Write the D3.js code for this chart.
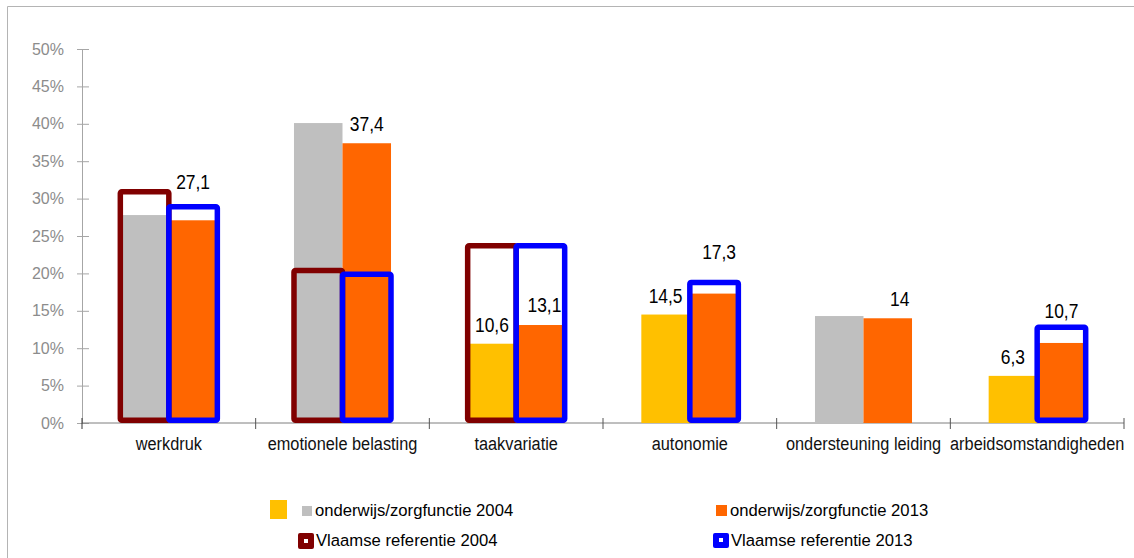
<!DOCTYPE html>
<html>
<head>
<meta charset="utf-8">
<script src="https://cdn.jsdelivr.net/npm/d3@7"></script>
<style>
  body { margin: 0; background: #fff; }
  svg { display: block; font-family: "Liberation Sans", Arial, sans-serif; }
</style>
</head>
<body>
<div id="chart"></div>
<script>
// Data
const categories = ["werkdruk", "emotionele belasting", "taakvariatie", "autonomie", "ondersteuning leiding", "arbeidsomstandigheden"];
const onderwijs2004 = [27.8, 40.1, 10.6, 14.5, 14.3, 6.3];
const onderwijs2013 = [27.1, 37.4, 13.1, 17.3, 14.0, 10.7];
const vlaams2004 = [30.9, 20.4, 23.7, null, null, null];
const vlaams2013 = [28.9, 19.9, 23.7, 18.8, null, 12.8];
// 2004 bars drawn yellow (with label) where marked
const marked2004 = [false, false, true, true, false, true];
const yTicks = [0, 5, 10, 15, 20, 25, 30, 35, 40, 45, 50];

// label nudges (px above bar top, px right)
const lift2013 = [31, 12, 13, 35, 12, 25];
const shift2013 = [0, 0, 4, 5, 12, 0];

const width = 1134, height = 558;

const svg = d3.select("#chart")
    .append("svg")
    .attr("width", width)
    .attr("height", height);

// frame
svg.append("path")
    .attr("d", "M7.5," + height + "V6.5H" + width)
    .attr("fill", "none")
    .attr("stroke", "#b4b4b4")
    .attr("stroke-width", 1);

const y = d3.scaleLinear()
    .domain([0, 50])
    .range([423, 49]);

const x = d3.scaleBand()
    .domain(categories)
    .range([82, 1124])
    .padding(0);

const sub = d3.scaleBand()
    .domain(["2004", "2013"])
    .range([0, x.bandwidth()])
    .paddingInner(0)
    .paddingOuter(0.79);

// y axis
const yAxis = svg.append("g")
    .attr("transform", "translate(82,0)")
    .call(d3.axisLeft(y).tickValues(yTicks).tickFormat(d => d + "%").tickSize(0).tickPadding(18));
yAxis.select(".domain").attr("stroke", "#a6a6a6");
yAxis.selectAll(".tick text")
    .attr("fill", "#8c8c8c")
    .style("font-size", "16px")
    .style("font-family", "Liberation Sans, Arial, sans-serif");
yAxis.selectAll(".tick").append("line")
    .attr("x1", -5).attr("x2", 7)
    .attr("stroke", "#a6a6a6");

// x axis line + boundary ticks
svg.append("line")
    .attr("x1", 82).attr("x2", 1124)
    .attr("y1", y(0)).attr("y2", y(0))
    .attr("stroke", "#7f7f7f");
const bounds = categories.map(c => x(c)).concat([x.range()[1]]);
svg.selectAll("line.xtick")
    .data(bounds)
    .join("line")
    .attr("class", "xtick")
    .attr("x1", d => d).attr("x2", d => d)
    .attr("y1", y(0) - 5).attr("y2", y(0) + 6)
    .attr("stroke", d => d === 82 ? "#333" : "#555");

// category labels
svg.selectAll("text.cat")
    .data(categories)
    .join("text")
    .attr("class", "cat")
    .attr("transform", d => "translate(" + (x(d) + x.bandwidth() / 2) + ",450) scale(0.86,1)")
    .attr("text-anchor", "middle")
    .style("font-size", "19px")
    .attr("fill", "#111")
    .text(d => d);

// bars
const rows = categories.map((c, i) => ({
    cat: c, v04: onderwijs2004[i], v13: onderwijs2013[i],
    r04: vlaams2004[i], r13: vlaams2013[i], mark: marked2004[i], i: i
}));

svg.selectAll("rect.b04")
    .data(rows)
    .join("rect")
    .attr("class", "b04")
    .attr("x", d => x(d.cat) + sub("2004"))
    .attr("width", sub.bandwidth())
    .attr("y", d => y(d.v04))
    .attr("height", d => y(0) - y(d.v04))
    .attr("fill", d => d.mark ? "#ffc000" : "#bfbfbf");

svg.selectAll("rect.b13")
    .data(rows)
    .join("rect")
    .attr("class", "b13")
    .attr("x", d => x(d.cat) + sub("2013"))
    .attr("width", sub.bandwidth())
    .attr("y", d => y(d.v13))
    .attr("height", d => y(0) - y(d.v13))
    .attr("fill", "#ff6600");

// reference outlines
const sw = 5.5;
svg.selectAll("rect.r04")
    .data(rows.filter(d => d.r04 != null))
    .join("rect")
    .attr("class", "r04")
    .attr("x", d => x(d.cat) + sub("2004"))
    .attr("width", sub.bandwidth())
    .attr("y", d => y(d.r04))
    .attr("height", d => y(0) - y(d.r04) - sw / 2)
    .attr("fill", "none")
    .attr("stroke", "#800000")
    .attr("stroke-width", sw)
    .attr("rx", 1.5);

svg.selectAll("rect.r13")
    .data(rows.filter(d => d.r13 != null))
    .join("rect")
    .attr("class", "r13")
    .attr("x", d => x(d.cat) + sub("2013"))
    .attr("width", sub.bandwidth())
    .attr("y", d => y(d.r13))
    .attr("height", d => y(0) - y(d.r13) - sw / 2)
    .attr("fill", "none")
    .attr("stroke", "#0000ff")
    .attr("stroke-width", sw)
    .attr("rx", 1.5);

// value labels
const fmt = v => String(v).replace(".", ",");
svg.selectAll("text.l13")
    .data(rows)
    .join("text")
    .attr("class", "l13")
    .attr("transform", d => "translate(" + (x(d.cat) + sub("2013") + sub.bandwidth() / 2 + shift2013[d.i]) + "," + (y(d.v13) - lift2013[d.i]) + ") scale(0.83,1)")
    .attr("text-anchor", "middle")
    .style("font-size", "21px")
    .attr("fill", "#000")
    .text(d => fmt(d.v13));

svg.selectAll("text.l04")
    .data(rows.filter(d => d.mark))
    .join("text")
    .attr("class", "l04")
    .attr("transform", d => "translate(" + (x(d.cat) + sub("2004") + sub.bandwidth() / 2) + "," + (y(d.v04) - 12) + ") scale(0.83,1)")
    .attr("text-anchor", "middle")
    .style("font-size", "21px")
    .attr("fill", "#000")
    .text(d => fmt(d.v04));

// LEGEND
const legend = svg.append("g").style("font-size", "17px").attr("fill", "#000");
legend.append("rect").attr("x", 270).attr("y", 500).attr("width", 17).attr("height", 19).attr("fill", "#ffc000");
legend.append("rect").attr("x", 302).attr("y", 506).attr("width", 10).attr("height", 10).attr("fill", "#bfbfbf");
legend.append("text").attr("transform", "translate(315,516) scale(0.98,1)").text("onderwijs/zorgfunctie 2004");

legend.append("rect").attr("x", 716).attr("y", 505).attr("width", 11).attr("height", 11).attr("fill", "#ff6600");
legend.append("text").attr("transform", "translate(730,516) scale(0.98,1)").text("onderwijs/zorgfunctie 2013");

legend.append("rect").attr("x", 298).attr("y", 533).attr("width", 16).attr("height", 16).attr("rx", 2).attr("fill", "#800000");
legend.append("rect").attr("x", 304).attr("y", 539).attr("width", 4).attr("height", 4).attr("fill", "#fff");
legend.append("text").attr("transform", "translate(316,546) scale(0.98,1)").text("Vlaamse referentie 2004");

legend.append("rect").attr("x", 713).attr("y", 533).attr("width", 16).attr("height", 15).attr("rx", 2).attr("fill", "#0000ff");
legend.append("rect").attr("x", 719).attr("y", 538).attr("width", 4).attr("height", 4).attr("fill", "#fff");
legend.append("text").attr("transform", "translate(731,546) scale(0.98,1)").text("Vlaamse referentie 2013");
</script>
</body>
</html>
